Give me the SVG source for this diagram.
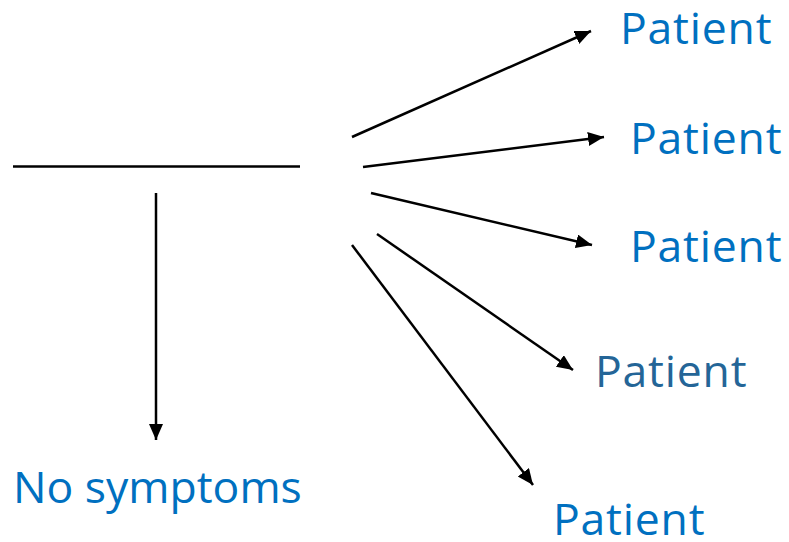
<svg xmlns="http://www.w3.org/2000/svg" width="789" height="542" viewBox="0 0 789 542">
<style>
.lbl{font-family:"Open Sans","DejaVu Sans",sans-serif;font-size:44.5px;fill:#0070C0}
.pt{letter-spacing:0.8px}
.dark{fill:#246597}
.c{stroke:#000;stroke-width:2.5;fill:none}
</style>
<defs>
<marker id="ah" markerUnits="userSpaceOnUse" markerWidth="17" markerHeight="15" refX="16" refY="7" orient="auto">
<path d="M0,0 L16,7 L0,14 z" fill="#000"/>
</marker>
</defs>
<rect width="789" height="542" fill="#fff"/>
<g id="connectors">
<line class="c" x1="13" y1="166.5" x2="300" y2="166.5"/>
<line class="c" x1="156" y1="193" x2="156" y2="440" marker-end="url(#ah)"/>
<line class="c" x1="352" y1="137" x2="591" y2="31" marker-end="url(#ah)"/>
<line class="c" x1="363" y1="167" x2="604" y2="137" marker-end="url(#ah)"/>
<line class="c" x1="371" y1="193" x2="592" y2="245" marker-end="url(#ah)"/>
<line class="c" x1="377" y1="234" x2="573" y2="370" marker-end="url(#ah)"/>
<line class="c" x1="352" y1="245" x2="533" y2="485" marker-end="url(#ah)"/>
</g>
<g id="p1"><text class="lbl pt" x="620" y="44">Patient</text></g>
<g id="p2"><text class="lbl pt" x="630" y="154">Patient</text></g>
<g id="p3"><text class="lbl pt" x="630" y="262">Patient</text></g>
<g id="p4"><text class="lbl pt dark" x="595" y="387">Patient</text></g>
<g id="p5"><text class="lbl pt" x="553" y="535">Patient</text></g>
<g id="none"><text class="lbl" x="13" y="503">No symptoms</text></g>
</svg>
